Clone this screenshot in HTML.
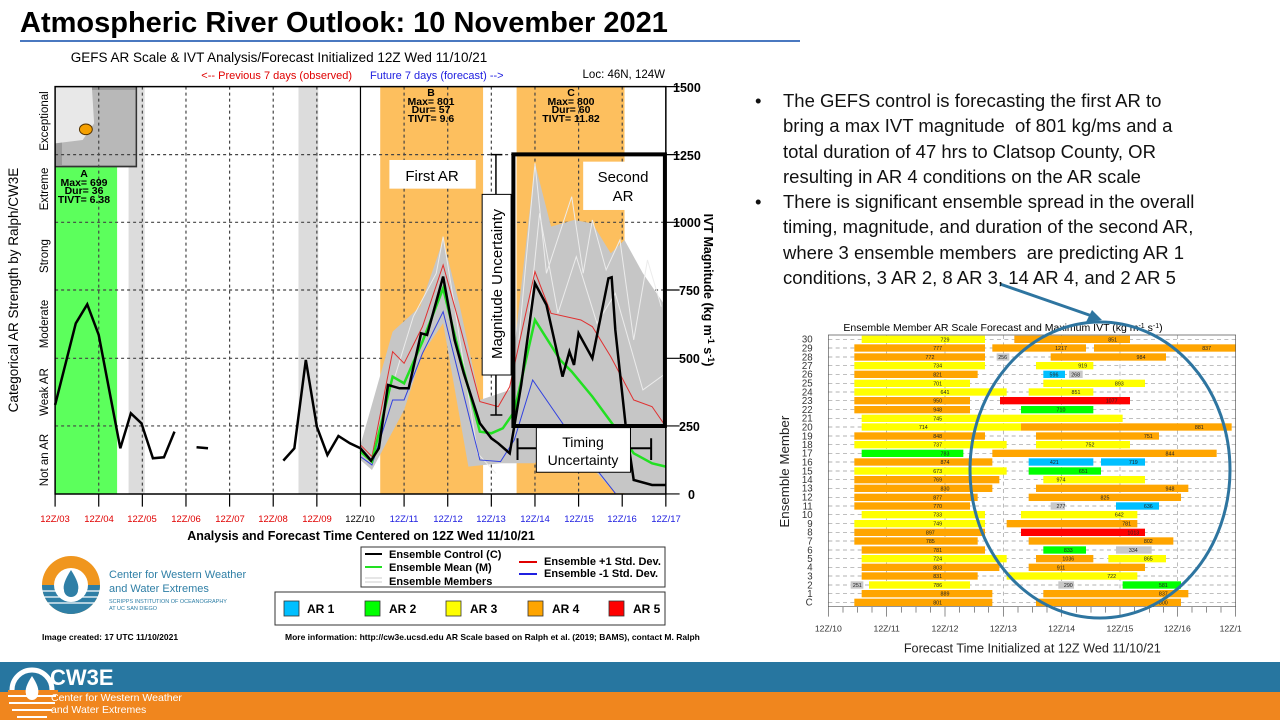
<!DOCTYPE html>
<html><head><meta charset="utf-8"><style>
html,body{margin:0;padding:0;width:1280px;height:720px;overflow:hidden;background:#fff;font-family:"Liberation Sans",sans-serif}
svg{position:absolute;left:0;top:0}
.b{position:absolute;font-size:18.5px;color:#111;line-height:25.3px}
</style></head><body>
<svg width="1280" height="720" viewBox="0 0 1280 720" font-family="Liberation Sans, sans-serif">
<text x="20" y="32" font-size="29" font-weight="bold" fill="#000">Atmospheric River Outlook: 10 November 2021</text>
<line x1="20" y1="41" x2="800" y2="41" stroke="#4a78c0" stroke-width="2"/>

<!-- LEFT CHART (zoom coords) -->
<g transform="translate(0,40) scale(0.4592,0.3333)">
<rect x="120" y="380" width="135" height="982" fill="#5cff5c"/>
<rect x="280" y="140" width="35" height="1222" fill="#dcdcdc"/>
<rect x="650" y="140" width="43" height="1222" fill="#dcdcdc"/>
<rect x="828" y="140" width="224" height="1222" fill="#fdbf5e"/>
<rect x="1125" y="140" width="235" height="1222" fill="#fdbf5e"/>
<rect x="120" y="140" width="177" height="240" fill="#9a9a9a"/>
<rect x="135" y="150" width="160" height="225" fill="#b8b8b8"/>
<path d="M120 140 L200 140 L205 250 L180 300 L120 310Z" fill="#e8e8e8"/>
<polyline points="297,140 297,380 120,380" fill="none" stroke="#333" stroke-width="1.5" vector-effect="non-scaling-stroke"/>
<g stroke="#444" stroke-width="1.2" stroke-dasharray="3,3" vector-effect="non-scaling-stroke" fill="none">
<path d="M120 344H1450M120 547H1450M120 750H1450M120 955H1450M120 1158H1450" vector-effect="non-scaling-stroke"/>
<path d="M215 140V1362M310 140V1362M405 140V1362M500 140V1362M595 140V1362M690 140V1362M880 140V1362M975 140V1362M1070 140V1362M1165 140V1362M1260 140V1362M1355 140V1362" vector-effect="non-scaling-stroke"/>
</g>
<polygon points="785,1215 855,875 915,800 965,600 1000,790 1045,1080 1110,1050 1165,370 1200,560 1250,540 1290,550 1330,640 1360,600 1400,700 1450,800 1450,1360 1340,1360 1300,1300 1200,1200 1165,1270 1090,1270 1020,1280 965,850 920,940 880,1110 810,1290 785,1260" fill="#c6c6c6"/>
<g fill="none" stroke="#ececec" stroke-width="1" vector-effect="non-scaling-stroke">
<polyline points="1130,900 1165,370 1190,700 1245,470 1270,700 1290,540 1320,690 1350,600 1380,900 1410,660 1440,800" vector-effect="non-scaling-stroke"/>
<polyline points="1140,1000 1175,520 1215,820 1255,650 1300,850 1340,760 1400,1050 1450,1000" vector-effect="non-scaling-stroke"/>
<polyline points="860,1010 900,830 950,700 965,590 990,800 1040,1240 1080,1300" vector-effect="non-scaling-stroke"/>
</g>
<polyline points="785,1215 810,1250 855,935 880,970 920,860 965,675 1000,850 1045,1085 1085,1100 1110,1040 1165,695 1200,820 1265,840 1290,860 1330,950 1380,1080 1420,1100 1450,1160" fill="none" stroke="#e03030" stroke-width="1" vector-effect="non-scaling-stroke"/>
<polyline points="785,1250 810,1275 855,1080 880,1080 920,940 965,815 1000,1010 1045,1260 1090,1265 1120,1200 1160,1020 1200,1100 1250,1200 1300,1290 1340,1360" fill="none" stroke="#3040e0" stroke-width="1" vector-effect="non-scaling-stroke"/>
<polyline points="785,1235 810,1265 855,1010 880,1030 920,905 965,745 1000,940 1045,1175 1070,1180 1095,1165 1120,1115 1165,840 1220,960 1245,995 1290,1070 1330,1145 1380,1240 1420,1270 1450,1280" fill="none" stroke="#22e022" stroke-width="2.5" vector-effect="non-scaling-stroke"/>
<g fill="none" stroke="#000" stroke-width="2.5" vector-effect="non-scaling-stroke">
<polyline points="120,1095 165,850 190,793 215,885 262,1225 285,1120 308,1150 333,1255 357,1252 380,1175" vector-effect="non-scaling-stroke"/>
<polyline points="428,1222 453,1225" vector-effect="non-scaling-stroke"/>
<polyline points="617,1262 641,1225 666,960 690,1160 713,1245 737,1188 762,1210 785,1225 808,1262 825,1225 845,1035 870,1045 890,1045 917,880 930,885 965,710 990,900 1010,1000 1045,1150 1070,1195 1085,1210 1110,1240 1135,1035 1165,730 1190,795 1225,1010 1240,935 1250,975 1260,880 1290,955 1325,715 1332,712 1340,870 1362,1150 1380,1320 1420,1335 1450,1335" vector-effect="non-scaling-stroke"/>
</g>
<path d="M785 140V1362" stroke="#000" stroke-width="1.2" vector-effect="non-scaling-stroke"/>
<rect x="120" y="140" width="1330" height="1222" fill="none" stroke="#000" stroke-width="1.5" vector-effect="non-scaling-stroke"/>
<path d="M120 1362V1400M215 1362V1400M310 1362V1400M405 1362V1400M500 1362V1400M595 1362V1400M690 1362V1400M785 1362V1400M880 1362V1400M975 1362V1400M1070 1362V1400M1165 1362V1400M1260 1362V1400M1355 1362V1400M1450 1362V1400M1450 140H1480M1450 344H1480M1450 547H1480M1450 750H1480M1450 955H1480M1450 1158H1480M1450 1362H1480" stroke="#000" stroke-width="1.2" vector-effect="non-scaling-stroke"/>
<!-- annotations -->
<rect x="848" y="360" width="188" height="86" fill="#fff"/>
<rect x="1050" y="463" width="63" height="542" fill="#fff" stroke="#000" stroke-width="1" vector-effect="non-scaling-stroke"/>
<path d="M1080 344V463M1080 1005V1125M1068 344H1094M1068 1125H1094" stroke="#000" stroke-width="1.5" vector-effect="non-scaling-stroke"/>
<rect x="1118" y="343" width="330" height="815" fill="none" stroke="#000" stroke-width="4" vector-effect="non-scaling-stroke"/>
<rect x="1270" y="365" width="170" height="145" fill="#fff"/>
<rect x="1168" y="1163" width="205" height="134" fill="#fff" stroke="#000" stroke-width="1" vector-effect="non-scaling-stroke"/>
<path d="M1127 1225H1168M1373 1225H1418M1127 1195V1260M1418 1195V1260" stroke="#000" stroke-width="2" vector-effect="non-scaling-stroke"/>
<ellipse cx="187" cy="268" rx="14" ry="16" fill="#f5a000" stroke="#553300" stroke-width="1" vector-effect="non-scaling-stroke"/>
</g>
<g font-size="10.5" fill="#000" text-anchor="middle" font-weight="bold">
<text x="84" y="177">A</text><text x="84" y="186">Max= 699</text><text x="84" y="194">Dur= 36</text><text x="84" y="203">TIVT= 6.38</text>
<text x="431" y="96">B</text><text x="431" y="105">Max= 801</text><text x="431" y="113">Dur= 57</text><text x="431" y="122">TIVT= 9.6</text>
<text x="571" y="96">C</text><text x="571" y="105">Max= 800</text><text x="571" y="113">Dur= 60</text><text x="571" y="122">TIVT= 11.82</text>
</g>
<text x="432" y="181" font-size="15" text-anchor="middle">First AR</text>
<text x="623" y="182" font-size="15" text-anchor="middle">Second</text>
<text x="623" y="201" font-size="15" text-anchor="middle">AR</text>
<text x="583" y="447" font-size="14" text-anchor="middle">Timing</text>
<text x="583" y="465" font-size="14" text-anchor="middle">Uncertainty</text>
<text transform="translate(502,284) rotate(-90)" font-size="15" text-anchor="middle">Magnitude  Uncertainty</text>
<text x="279" y="62" font-size="13.5" text-anchor="middle">GEFS AR Scale &amp; IVT Analysis/Forecast Initialized 12Z Wed 11/10/21</text>
<text x="352" y="79" font-size="11" fill="#e00000" text-anchor="end">&lt;-- Previous 7 days (observed)</text>
<text x="370" y="79" font-size="11" fill="#2020e0">Future 7 days (forecast) --&gt;</text>
<text x="665" y="78" font-size="11.5" text-anchor="end">Loc: 46N, 124W</text>
<g font-size="12.5" font-weight="bold">
<text x="673" y="92">1500</text><text x="673" y="160">1250</text><text x="673" y="227">1000</text><text x="679" y="295">750</text><text x="679" y="363">500</text><text x="679" y="431">250</text><text x="688" y="499">0</text>
</g>
<text transform="translate(704,290) rotate(90)" font-size="12.5" font-weight="bold" text-anchor="middle">IVT Magnitude (kg m<tspan dy="-4" font-size="9">-1</tspan><tspan dy="4"> s</tspan><tspan dy="-4" font-size="9">-1</tspan><tspan dy="4">)</tspan></text>
<text transform="translate(18,290) rotate(-90)" font-size="13.5" text-anchor="middle">Categorical AR Strength by Ralph/CW3E</text>
<g font-size="11.5" text-anchor="middle">
<text transform="translate(48,121) rotate(-90)">Exceptional</text>
<text transform="translate(48,189) rotate(-90)">Extreme</text>
<text transform="translate(48,256) rotate(-90)">Strong</text>
<text transform="translate(48,324) rotate(-90)">Moderate</text>
<text transform="translate(48,392) rotate(-90)">Weak AR</text>
<text transform="translate(48,460) rotate(-90)">Not an AR</text>
</g>
<g font-size="9.5" text-anchor="middle">
<text x="55" y="522" fill="#e00000">12Z/03</text><text x="99" y="522" fill="#e00000">12Z/04</text><text x="142" y="522" fill="#e00000">12Z/05</text><text x="186" y="522" fill="#e00000">12Z/06</text><text x="230" y="522" fill="#e00000">12Z/07</text><text x="273" y="522" fill="#e00000">12Z/08</text><text x="317" y="522" fill="#e00000">12Z/09</text>
<text x="360" y="522" fill="#000">12Z/10</text>
<text x="404" y="522" fill="#2020e0">12Z/11</text><text x="448" y="522" fill="#2020e0">12Z/12</text><text x="491" y="522" fill="#2020e0">12Z/13</text><text x="535" y="522" fill="#2020e0">12Z/14</text><text x="579" y="522" fill="#2020e0">12Z/15</text><text x="622" y="522" fill="#2020e0">12Z/16</text><text x="666" y="522" fill="#2020e0">12Z/17</text>
</g>
<text x="361" y="540" font-size="12.5" font-weight="bold" text-anchor="middle">Analysis and Forecast Time Centered on 12Z Wed 11/10/21</text>
<!-- legends -->
<rect x="361" y="547" width="304" height="40" fill="#fff" stroke="#333" stroke-width="1"/>
<g font-size="11" font-weight="bold">
<line x1="365" y1="554" x2="382" y2="554" stroke="#000" stroke-width="2"/><text x="389" y="558">Ensemble Control (C)</text>
<line x1="365" y1="567" x2="382" y2="567" stroke="#22e022" stroke-width="2"/><text x="389" y="571">Ensemble Mean (M)</text>
<line x1="365" y1="578" x2="382" y2="578" stroke="#ccc" stroke-width="1"/><line x1="365" y1="582" x2="382" y2="582" stroke="#ccc" stroke-width="1"/><text x="389" y="585">Ensemble Members</text>
<line x1="519" y1="562" x2="537" y2="562" stroke="#e00000" stroke-width="2"/><text x="544" y="565">Ensemble +1 Std. Dev.</text>
<line x1="519" y1="574" x2="537" y2="574" stroke="#2020e0" stroke-width="2"/><text x="544" y="577">Ensemble -1 Std. Dev.</text>
</g>
<rect x="275" y="592" width="390" height="33" fill="#fff" stroke="#333" stroke-width="1"/>
<g font-size="12" font-weight="bold" stroke="#333" stroke-width="0.8">
<rect x="284" y="601" width="15" height="15" fill="#00bfff"/><rect x="365" y="601" width="15" height="15" fill="#00ff00"/><rect x="446" y="601" width="15" height="15" fill="#ffff00"/><rect x="528" y="601" width="15" height="15" fill="#ffa500"/><rect x="609" y="601" width="15" height="15" fill="#ff0000"/>
</g>
<g font-size="12" font-weight="bold"><text x="307" y="613">AR 1</text><text x="389" y="613">AR 2</text><text x="470" y="613">AR 3</text><text x="552" y="613">AR 4</text><text x="633" y="613">AR 5</text></g>
<text x="42" y="640" font-size="8.5" font-weight="bold">Image created: 17 UTC 11/10/2021</text>
<text x="285" y="640" font-size="8.5" font-weight="bold">More information: http://cw3e.ucsd.edu  AR Scale based on Ralph et al. (2019; BAMS), contact M. Ralph</text>
<!-- logo -->
<circle cx="71" cy="585" r="29" fill="#f0961e"/>
<path d="M42 585 A29 29 0 0 0 100 585Z" fill="#2f7fa6"/>
<g stroke="#fff" stroke-width="1.2"><line x1="42" y1="591" x2="100" y2="591"/><line x1="43" y1="597" x2="99" y2="597"/><line x1="46" y1="603" x2="96" y2="603"/></g>
<circle cx="71" cy="585" r="17" fill="#fff"/>
<path d="M71 570 Q80 584 78 590 A7 7 0 0 1 64 590 Q62 584 71 570Z" fill="#2f7fa6"/>
<text x="109" y="578" font-size="11" fill="#2f7fa6">Center for Western Weather</text>
<text x="109" y="592" font-size="11" fill="#2f7fa6">and Water Extremes</text>
<text x="109" y="603" font-size="5.5" fill="#2f7fa6">SCRIPPS INSTITUTION OF OCEANOGRAPHY</text>
<text x="109" y="610" font-size="5.5" fill="#2f7fa6">AT UC SAN DIEGO</text>

<!-- arrow -->
<line x1="1000" y1="284" x2="1092" y2="316" stroke="#2e75a0" stroke-width="3"/>
<polygon points="1102,320 1086,322 1092,310" fill="#2e75a0"/>

<!-- RIGHT CHART -->
<text x="1003" y="331" font-size="10.5" text-anchor="middle">Ensemble Member AR Scale Forecast and Maximum IVT (kg m<tspan dy="-3" font-size="7">-1</tspan><tspan dy="3"> s</tspan><tspan dy="-3" font-size="7">-1</tspan><tspan dy="3">)</tspan></text>
<g transform="translate(770,315) scale(0.33333)">
<g stroke="#999" stroke-width="2" stroke-dasharray="12,10">
<path d="M175 73H1397M175 99H1397M175 126H1397M175 152H1397M175 178H1397M175 205H1397M175 231H1397M175 257H1397M175 284H1397M175 310H1397M175 336H1397M175 363H1397M175 389H1397M175 415H1397M175 441H1397M175 468H1397M175 494H1397M175 520H1397M175 547H1397M175 573H1397M175 599H1397M175 626H1397M175 652H1397M175 678H1397M175 705H1397M175 731H1397M175 757H1397M175 783H1397M175 810H1397M175 836H1397M175 862H1397"/>
<path d="M350 60V875M525 60V875M700 60V875M875 60V875M1050 60V875M1222 60V875"/>
</g>
<g>
<rect x="275" y="62" width="370" height="22" fill="#ffff00"/><rect x="733" y="62" width="347" height="22" fill="#ffa500"/>
<rect x="253" y="88" width="392" height="22" fill="#ffa500"/><rect x="667" y="88" width="281" height="22" fill="#ffa500"/><rect x="972" y="88" width="425" height="22" fill="#ffa500"/>
<rect x="253" y="115" width="392" height="22" fill="#ffa500"/><rect x="680" y="115" width="38" height="22" fill="#c8c8c8"/><rect x="842" y="115" width="346" height="22" fill="#ffa500"/>
<rect x="253" y="141" width="392" height="22" fill="#ffff00"/><rect x="798" y="141" width="172" height="22" fill="#ffff00"/>
<rect x="253" y="167" width="370" height="22" fill="#ffa500"/><rect x="820" y="167" width="65" height="22" fill="#00bfff"/><rect x="897" y="167" width="41" height="22" fill="#c8c8c8"/>
<rect x="253" y="194" width="347" height="22" fill="#ffff00"/><rect x="820" y="194" width="305" height="22" fill="#ffff00"/>
<rect x="253" y="220" width="457" height="22" fill="#ffff00"/><rect x="776" y="220" width="194" height="22" fill="#ffff00"/>
<rect x="253" y="246" width="347" height="22" fill="#ffa500"/><rect x="690" y="246" width="390" height="22" fill="#ff0000"/>
<rect x="253" y="273" width="347" height="22" fill="#ffa500"/><rect x="753" y="273" width="217" height="22" fill="#00ff00"/>
<rect x="275" y="299" width="783" height="22" fill="#ffff00"/>
<rect x="275" y="325" width="478" height="22" fill="#ffff00"/><rect x="753" y="325" width="632" height="22" fill="#ffa500"/>
<rect x="253" y="352" width="392" height="22" fill="#ffa500"/><rect x="798" y="352" width="369" height="22" fill="#ffa500"/>
<rect x="253" y="378" width="457" height="22" fill="#ffff00"/><rect x="798" y="378" width="282" height="22" fill="#ffff00"/>
<rect x="275" y="404" width="305" height="22" fill="#00ff00"/><rect x="667" y="404" width="673" height="22" fill="#ffa500"/>
<rect x="253" y="430" width="414" height="22" fill="#ffa500"/><rect x="776" y="430" width="194" height="22" fill="#00bfff"/><rect x="993" y="430" width="132" height="22" fill="#00bfff"/>
<rect x="253" y="457" width="457" height="22" fill="#ffff00"/><rect x="776" y="457" width="217" height="22" fill="#00ff00"/>
<rect x="253" y="483" width="435" height="22" fill="#ffa500"/><rect x="820" y="483" width="305" height="22" fill="#ffff00"/>
<rect x="253" y="509" width="414" height="22" fill="#ffa500"/><rect x="798" y="509" width="457" height="22" fill="#ffa500"/>
<rect x="253" y="536" width="370" height="22" fill="#ffa500"/><rect x="776" y="536" width="457" height="22" fill="#ffa500"/>
<rect x="253" y="562" width="347" height="22" fill="#ffa500"/><rect x="842" y="562" width="43" height="22" fill="#c8c8c8"/><rect x="1038" y="562" width="129" height="22" fill="#00bfff"/>
<rect x="275" y="588" width="370" height="22" fill="#ffff00"/><rect x="753" y="588" width="349" height="22" fill="#ffff00"/>
<rect x="253" y="615" width="392" height="22" fill="#ffff00"/><rect x="710" y="615" width="392" height="22" fill="#ffa500"/>
<rect x="253" y="641" width="392" height="22" fill="#ffa500"/><rect x="753" y="641" width="372" height="22" fill="#ff0000"/>
<rect x="253" y="667" width="370" height="22" fill="#ffa500"/><rect x="776" y="667" width="434" height="22" fill="#ffa500"/>
<rect x="275" y="694" width="370" height="22" fill="#ffa500"/><rect x="820" y="694" width="128" height="22" fill="#00ff00"/><rect x="1038" y="694" width="107" height="22" fill="#c8c8c8"/>
<rect x="275" y="720" width="435" height="22" fill="#ffff00"/><rect x="798" y="720" width="172" height="22" fill="#ffa500"/><rect x="1015" y="720" width="173" height="22" fill="#ffff00"/>
<rect x="275" y="746" width="413" height="22" fill="#ffa500"/><rect x="776" y="746" width="349" height="22" fill="#ffa500"/>
<rect x="275" y="772" width="348" height="22" fill="#ffa500"/><rect x="710" y="772" width="392" height="22" fill="#ffff00"/>
<rect x="242" y="799" width="38" height="22" fill="#c8c8c8"/><rect x="297" y="799" width="303" height="22" fill="#ffff00"/><rect x="865" y="799" width="47" height="22" fill="#c8c8c8"/><rect x="1058" y="799" width="175" height="22" fill="#00ff00"/>
<rect x="275" y="825" width="392" height="22" fill="#ffa500"/><rect x="820" y="825" width="435" height="22" fill="#ffa500"/>
<rect x="253" y="851" width="414" height="22" fill="#ffa500"/><rect x="798" y="851" width="435" height="22" fill="#ffa500"/>
</g>
<g font-size="16" text-anchor="middle" fill="#222">
<text x="525" y="79">729</text><text x="1028" y="79">851</text>
<text x="503" y="105">777</text><text x="873" y="105">1217</text><text x="1310" y="105">837</text>
<text x="480" y="132">772</text><text x="698" y="132">256</text><text x="1113" y="132">984</text>
<text x="503" y="158">734</text><text x="938" y="158">919</text>
<text x="503" y="184">821</text><text x="852" y="184">596</text><text x="917" y="184">268</text>
<text x="503" y="211">701</text><text x="1048" y="211">893</text>
<text x="525" y="237">641</text><text x="918" y="237">851</text>
<text x="503" y="263">950</text><text x="1025" y="263">1077</text>
<text x="503" y="290">948</text><text x="873" y="290">710</text>
<text x="503" y="316">745</text>
<text x="460" y="342">714</text><text x="1288" y="342">881</text>
<text x="503" y="369">848</text><text x="1135" y="369">751</text>
<text x="503" y="395">737</text><text x="960" y="395">752</text>
<text x="525" y="421">783</text><text x="1200" y="421">844</text>
<text x="525" y="447">874</text><text x="853" y="447">421</text><text x="1090" y="447">719</text>
<text x="503" y="474">673</text><text x="940" y="474">651</text>
<text x="503" y="500">769</text><text x="873" y="500">974</text>
<text x="525" y="526">830</text><text x="1200" y="526">948</text>
<text x="503" y="553">877</text><text x="1005" y="553">825</text>
<text x="503" y="579">770</text><text x="873" y="579">277</text><text x="1135" y="579">636</text>
<text x="503" y="605">733</text><text x="1048" y="605">642</text>
<text x="503" y="632">749</text><text x="1070" y="632">781</text>
<text x="481" y="658">897</text><text x="1090" y="658">1013</text>
<text x="481" y="684">785</text><text x="1135" y="684">802</text>
<text x="503" y="711">781</text><text x="895" y="711">833</text><text x="1090" y="711">334</text>
<text x="503" y="737">724</text><text x="895" y="737">1036</text><text x="1135" y="737">865</text>
<text x="503" y="763">803</text><text x="873" y="763">911</text>
<text x="503" y="789">831</text><text x="1025" y="789">722</text>
<text x="262" y="816">251</text><text x="503" y="816">786</text><text x="895" y="816">290</text><text x="1180" y="816">581</text>
<text x="525" y="842">889</text><text x="1180" y="842">837</text>
<text x="503" y="868">801</text><text x="1180" y="868">800</text>
</g>
<path d="M175 60V875H1397V60Z" fill="none" stroke="#555" stroke-width="2"/>
<path d="M175 875V905M350 875V905M525 875V905M700 875V905M875 875V905M1050 875V905M1222 875V905M1397 875V905M219 875V893M263 875V893M306 875V893M394 875V893M438 875V893M481 875V893M569 875V893M613 875V893M656 875V893M744 875V893M788 875V893M831 875V893M919 875V893M963 875V893M1006 875V893M1094 875V893M1138 875V893M1181 875V893M1266 875V893M1310 875V893M1353 875V893" stroke="#555" stroke-width="2"/>
<g font-size="29" text-anchor="end" fill="#333">
<text x="128" y="83">30</text><text x="128" y="109">29</text><text x="128" y="136">28</text><text x="128" y="162">27</text><text x="128" y="188">26</text><text x="128" y="215">25</text><text x="128" y="241">24</text><text x="128" y="267">23</text><text x="128" y="294">22</text><text x="128" y="320">21</text><text x="128" y="346">20</text><text x="128" y="373">19</text><text x="128" y="399">18</text><text x="128" y="425">17</text><text x="128" y="451">16</text><text x="128" y="478">15</text><text x="128" y="504">14</text><text x="128" y="530">13</text><text x="128" y="557">12</text><text x="128" y="583">11</text><text x="128" y="609">10</text><text x="128" y="636">9</text><text x="128" y="662">8</text><text x="128" y="688">7</text><text x="128" y="715">6</text><text x="128" y="741">5</text><text x="128" y="767">4</text><text x="128" y="793">3</text><text x="128" y="820">2</text><text x="128" y="846">1</text><text x="128" y="872">C</text>
</g>
<g font-size="26" text-anchor="middle" fill="#333">
<text x="175" y="950">12Z/10</text><text x="350" y="950">12Z/11</text><text x="525" y="950">12Z/12</text><text x="700" y="950">12Z/13</text><text x="875" y="950">12Z/14</text><text x="1050" y="950">12Z/15</text><text x="1222" y="950">12Z/16</text><text x="1382" y="950">12Z/1</text>
</g>
<text x="787" y="1012" font-size="38" text-anchor="middle" fill="#222">Forecast Time Initialized at 12Z Wed 11/10/21</text>
<text transform="translate(57,470) rotate(-90)" font-size="40" text-anchor="middle" fill="#222">Ensemble Member</text>
</g>
<ellipse cx="1100" cy="470" rx="130" ry="148" fill="none" stroke="#2e75a0" stroke-width="3"/>

<!-- footer -->
<rect x="0" y="662" width="1280" height="30" fill="#2776a0"/>
<rect x="0" y="692" width="1280" height="28" fill="#f0861e"/>
<circle cx="32" cy="690" r="20" fill="none" stroke="#fff" stroke-width="5"/>
<rect x="8" y="690" width="50" height="30" fill="#f0861e"/>
<g stroke="#fff" stroke-width="2"><line x1="8" y1="696" x2="56" y2="696"/><line x1="9" y1="703" x2="55" y2="703"/><line x1="12" y1="710" x2="52" y2="710"/><line x1="17" y1="717" x2="47" y2="717"/></g>
<path d="M32 676 Q40 688 38 694 A6 6 0 0 1 26 694 Q24 688 32 676Z" fill="#fff"/>
<text x="50" y="685" font-size="22" font-weight="bold" fill="#fff">CW3E</text>
<text x="51" y="701" font-size="10.5" fill="#fff">Center for Western Weather</text>
<text x="51" y="713" font-size="10.5" fill="#fff">and Water Extremes</text>
</svg>
<div class="b" style="left:755px;top:88px">•</div>
<div class="b" style="left:783px;top:88px;width:480px">The GEFS control is forecasting the first AR to<br>bring a max IVT magnitude&nbsp; of 801 kg/ms and a<br>total duration of 47 hrs to Clatsop County, OR<br>resulting in AR 4 conditions on the AR scale</div>
<div class="b" style="left:755px;top:189px">•</div>
<div class="b" style="left:783px;top:189px;width:490px">There is significant ensemble spread in the overall<br>timing, magnitude, and duration of the second AR,<br>where 3 ensemble members&nbsp; are predicting AR 1<br>conditions, 3 AR 2, 8 AR 3, 14 AR 4, and 2 AR 5</div>
</body></html>
